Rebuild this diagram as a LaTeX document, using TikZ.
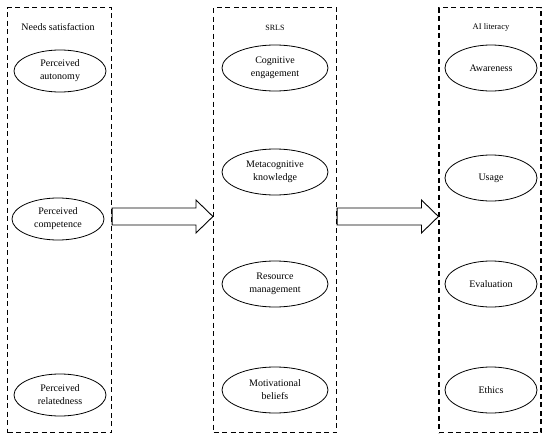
\documentclass[tikz,border=0pt]{standalone}
\usepackage{fontspec}
\setmainfont{Liberation Serif}
\usetikzlibrary{shapes.geometric}
\begin{document}
\begin{tikzpicture}[x=1pt,y=-1pt,
  grp/.style={draw, line width=1.1pt, dash pattern=on 5pt off 3.5pt, inner sep=0pt},
  oval/.style={draw, ellipse, line width=0.8pt, inner sep=0pt, minimum width=92pt, minimum height=42pt, align=center, font=\fontsize{10}{13}\selectfont},
  ttl/.style={font=\fontsize{10}{12}\selectfont},
  bigarrow/.style={draw, line width=0.9pt, fill=white}
]
\useasboundingbox (0,0) rectangle (550,442);
% group boxes
\node[grp, minimum width=104pt, minimum height=425pt] (L) at (59.5,220) {};
\node[grp, minimum width=123pt, minimum height=425pt] (M) at (275,220) {};
\node[grp, minimum width=102pt, minimum height=425pt] (R) at (490,220) {};
% titles
\node[ttl] (tL) at (58,27) {Needs satisfaction};
\node[ttl, font=\fontsize{8}{10}\selectfont] (tM) at (275,28) {SRLS};
\node[ttl, font=\fontsize{8.5}{10}\selectfont] (tR) at (491,27) {AI literacy};
% left ellipses
\node[oval] (a1) at (60,71) {Perceived\\autonomy};
\node[oval] (a2) at (58,219) {Perceived\\competence};
\node[oval] (a3) at (60,395) {Perceived\\relatedness};
% middle ellipses
\node[oval, minimum width=106pt, minimum height=46pt] (b1) at (275,68) {Cognitive\\engagement};
\node[oval, minimum width=106pt, minimum height=46pt] (b2) at (275,172) {Metacognitive\\knowledge};
\node[oval, minimum width=106pt, minimum height=46pt] (b3) at (275,284) {Resource\\management};
\node[oval, minimum width=106pt, minimum height=46pt] (b4) at (275,390) {Motivational\\beliefs};
% right ellipses
\node[oval, minimum height=46pt] (c1) at (491,68) {Awareness};
\node[oval, minimum height=46pt] (c2) at (491,178) {Usage};
\node[oval, minimum height=46pt] (c3) at (491,284) {Evaluation};
\node[oval, minimum height=46pt] (c4) at (491,390) {Ethics};
% block arrows
\coordinate (p1) at (L.east |- 0,216.5);
\coordinate (q1) at (M.west |- 0,216.5);
\coordinate (p2) at (M.east |- 0,216.5);
\coordinate (q2) at (R.west |- 0,216.5);
\draw[bigarrow] ([yshift=-8.5pt]p1) -- ([xshift=-17pt,yshift=-8.5pt]q1) -- ([xshift=-17pt,yshift=-16.5pt]q1) -- (q1) -- ([xshift=-17pt,yshift=16.5pt]q1) -- ([xshift=-17pt,yshift=8.5pt]q1) -- ([yshift=8.5pt]p1) -- cycle;
\draw[bigarrow] ([yshift=-8.5pt]p2) -- ([xshift=-17pt,yshift=-8.5pt]q2) -- ([xshift=-17pt,yshift=-16.5pt]q2) -- (q2) -- ([xshift=-17pt,yshift=16.5pt]q2) -- ([xshift=-17pt,yshift=8.5pt]q2) -- ([yshift=8.5pt]p2) -- cycle;
\end{tikzpicture}
\end{document}
